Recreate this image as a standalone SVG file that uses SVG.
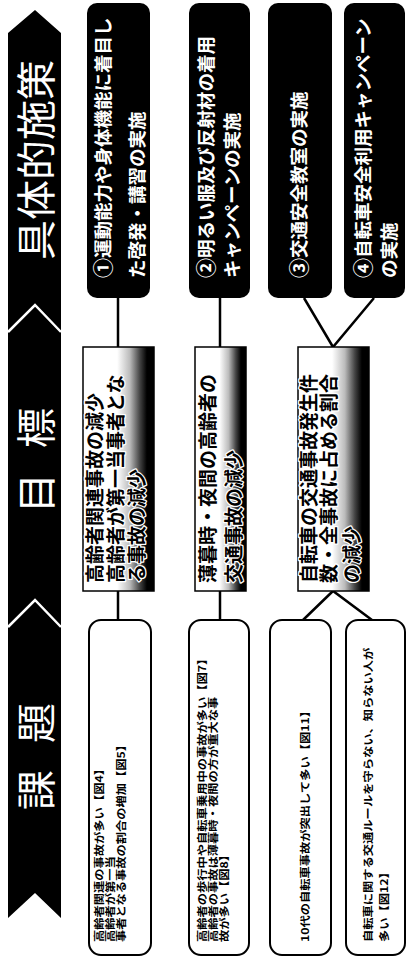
<svg xmlns="http://www.w3.org/2000/svg" width="406" height="958" viewBox="0 0 406 958">
<defs>
<linearGradient id="fade" x1="0" y1="0" x2="1" y2="0">
<stop offset="0" stop-color="#fff"/>
<stop offset="0.48" stop-color="#fff"/>
<stop offset="0.66" stop-color="#bbb"/>
<stop offset="0.8" stop-color="#444"/>
<stop offset="0.9" stop-color="#000"/>
<stop offset="1" stop-color="#000"/>
</linearGradient>
</defs>
<style>
text { font-family: "Noto Sans CJK JP", "Noto Sans", sans-serif; dominant-baseline: central; }
.hd { fill: #fff; font-size: 40px; }
.m { fill: #fff; font-size: 18.5px; font-weight: 700; }
.num { font-size: 20px; }
.g { fill: #000; font-size: 19px; font-weight: 700; stroke: #fff; stroke-width: 2.5px; paint-order: stroke; stroke-linejoin: round; }
.k { fill: #000; font-size: 10.5px; font-weight: 700; }
.blk { fill: #000; }
.goal { fill: url(#fade); stroke: #000; stroke-width: 1.5; }
.issue { fill: #fff; stroke: #000; stroke-width: 2; }
.con { stroke: #000; stroke-width: 2.5; fill: none; }
</style>

<g id="header">
<polygon class="blk" points="8,33 35,10 61,33 61,918 35,893 8,918"/>
<polyline points="8,332 35,305 61,332" fill="none" stroke="#fff" stroke-width="2.5"/>
<polyline points="8,627 35,600 61,627" fill="none" stroke="#fff" stroke-width="2.5"/>
<text class="hd" transform="translate(34,160) rotate(-90)" text-anchor="middle">具体的施策</text>
<text class="hd" transform="translate(34,460.5) rotate(-90)"><tspan x="-52.5">目 </tspan><tspan x="12.5">標</tspan></text>
<text class="hd" transform="translate(34,756.5) rotate(-90)"><tspan x="-53.5">課 </tspan><tspan x="13.5">題</tspan></text>
</g>

<g id="connectors">
<line class="con" x1="118" y1="298" x2="118" y2="347"/>
<line class="con" x1="118" y1="591" x2="118" y2="620"/>
<line class="con" x1="220" y1="298" x2="220" y2="347"/>
<line class="con" x1="220" y1="591" x2="220" y2="620"/>
<polyline class="con" points="304,298 333,347 374,298"/>
<polyline class="con" points="303,620 333,591 372,620"/>
</g>

<g id="measure1">
<rect class="blk" x="87" y="3" width="63" height="295" rx="10"/>
<text class="m" transform="translate(102,278) rotate(-90)"><tspan class="num">①</tspan>運動能力や身体機能に着目し<tspan x="0" dy="34">た啓発・講習の実施</tspan></text>
</g>
<g id="measure2">
<rect class="blk" x="189" y="3" width="61" height="295" rx="10"/>
<text class="m" transform="translate(205,278) rotate(-90)"><tspan class="num">②</tspan>明るい服及び反射材の着用<tspan x="0" dy="26">キャンペーンの実施</tspan></text>
</g>
<g id="measure3">
<rect class="blk" x="268" y="3" width="64" height="295" rx="10"/>
<text class="m" transform="translate(298,278) rotate(-90)"><tspan class="num">③</tspan>交通安全教室の実施</text>
</g>
<g id="measure4">
<rect class="blk" x="344" y="3" width="61" height="295" rx="10"/>
<text class="m" transform="translate(362,278) rotate(-90)"><tspan class="num">④</tspan>自転車安全利用キャンペーン<tspan x="0" dy="26">の実施</tspan></text>
</g>

<g id="goal1">
<rect class="goal" x="83" y="347" width="71" height="244"/>
<text class="g" transform="translate(93,583) rotate(-90)">高齢者関連事故の減少<tspan x="0" dy="21">高齢者が第一当事者とな</tspan><tspan x="0" dy="21">る事故の減少</tspan></text>
</g>
<g id="goal2">
<rect class="goal" x="195" y="347" width="51" height="244"/>
<text class="g" transform="translate(206,583) rotate(-90)">薄暮時・夜間の高齢者の<tspan x="0" dy="26">交通事故の減少</tspan></text>
</g>
<g id="goal3">
<rect class="goal" x="298" y="347" width="71" height="244"/>
<text class="g" transform="translate(307,583) rotate(-90)">自転車の交通事故発生件<tspan x="0" dy="20">数・全事故に占める割合</tspan><tspan x="0" dy="23">の減少</tspan></text>
</g>

<g id="issue1">
<rect class="issue" x="89" y="620" width="62" height="335" rx="12"/>
<text class="k" transform="translate(98,942) rotate(-90) scale(1.17,1)">高齢者関連の事故が多い【図4】<tspan x="0" dy="11">高齢者が第一当</tspan><tspan x="0" dy="11">事者となる事故の割合の増加【図5】</tspan></text>
</g>
<g id="issue2">
<rect class="issue" x="189" y="620" width="60" height="335" rx="12"/>
<text class="k" transform="translate(201,942) rotate(-90) scale(1.17,1)">高齢者の歩行中や自転車乗用中の事故が多い【図7】<tspan x="0" dy="11">高齢者の事故は薄暮時・夜間の方が重大な事</tspan><tspan x="0" dy="11">故が多い【図8】</tspan></text>
</g>
<g id="issue3">
<rect class="issue" x="270" y="620" width="61" height="335" rx="12"/>
<text class="k" transform="translate(304,942) rotate(-90) scale(1.17,1)">10代の自転車事故が突出して多い【図11】</text>
</g>
<g id="issue4">
<rect class="issue" x="346" y="620" width="59" height="335" rx="12"/>
<text class="k" transform="translate(367,942) rotate(-90) scale(1.17,1)">自転車に関する交通ルールを守らない、知らない人が<tspan x="0" dy="16">多い【図12】</tspan></text>
</g>
</svg>
